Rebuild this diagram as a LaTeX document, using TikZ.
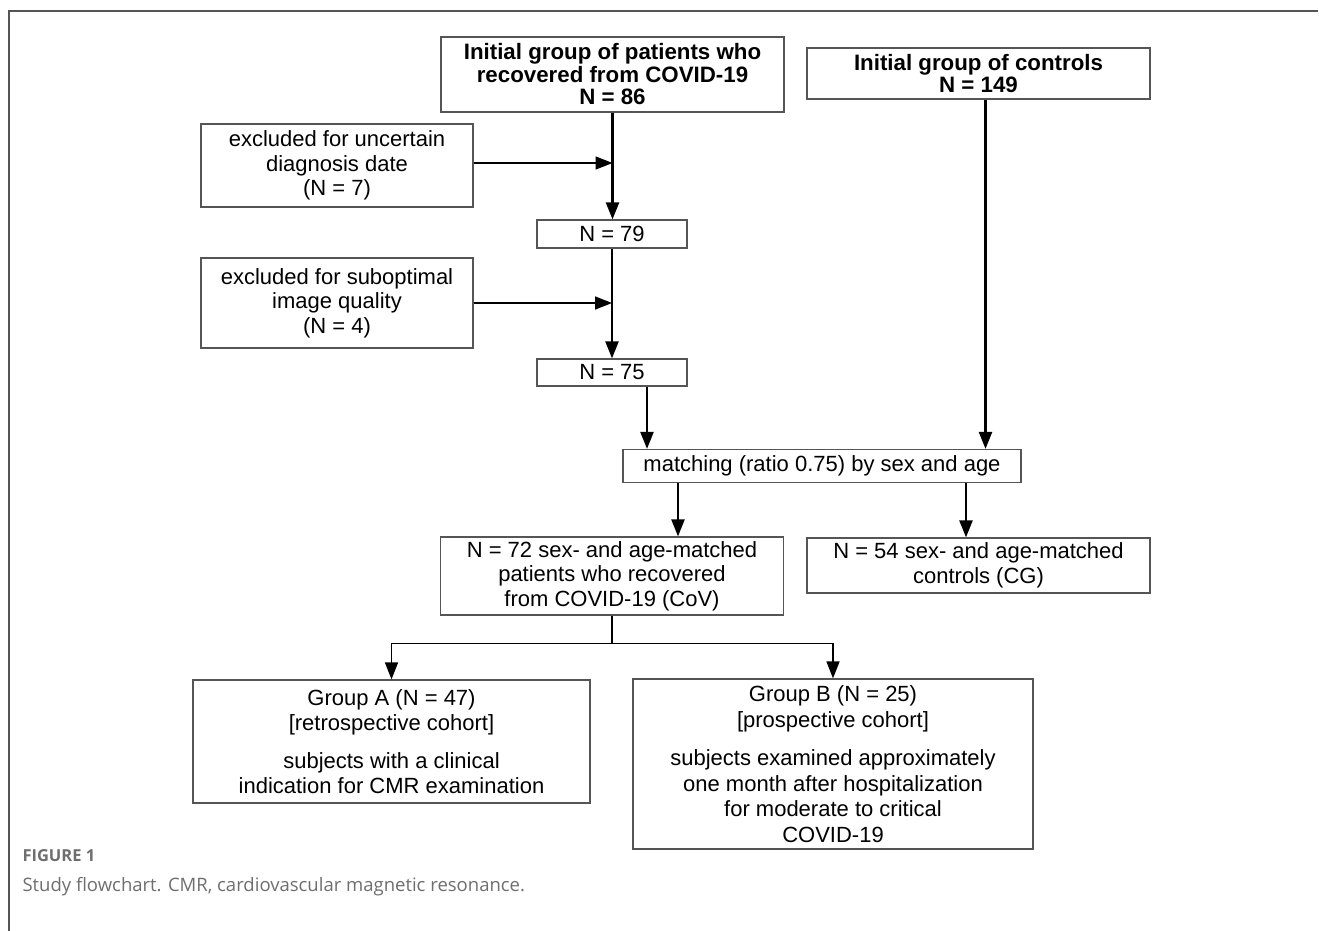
\documentclass[tikz,border=0pt]{standalone}
\usepackage{fontspec}
\setmainfont{Liberation Sans}
\newfontfamily\capfont{Open Sans}
\usepackage{tikz}
\usetikzlibrary{arrows.meta}

\definecolor{boxgray}{HTML}{555555}
\definecolor{capgray}{HTML}{6E6E6E}

\begin{document}
\begin{tikzpicture}[x=1pt,y=-1pt,>={Triangle[length=17pt,width=13pt]}]
            \useasboundingbox (0,0) rectangle (1319,931);
            % frame and caption
            \draw[boxgray,line width=1.3pt] (9,931) -- (9,11) -- (1318,11);
            \node[anchor=base west,text=capgray,font=\capfont\bfseries\fontsize{16.5}{18}\selectfont] (fig) at (19,861) {FIGURE 1};
            \node[anchor=base west,text=capgray,font=\capfont\fontsize{18.5}{22}\selectfont] (cap) at (19,891) {Study flowchart. CMR, cardiovascular magnetic resonance.};

            \begin{scope}[every node/.style={rectangle,draw=boxgray,line width=1.2pt,align=center,inner sep=0pt,font=\fontsize{22}{24.5}\selectfont}]
                \node[minimum width=343pt,minimum height=75pt,font=\bfseries\fontsize{22.3}{22.5}\selectfont] (p0) at (612.5,74.5) {Initial group of patients who\\recovered from COVID-19\\N = 86};
                \node[minimum width=343pt,minimum height=51pt,font=\bfseries\fontsize{22.3}{22.5}\selectfont] (c0) at (978.5,73.5) {Initial group of controls\\N = 149};
                \node[minimum width=272pt,minimum height=83pt] (ex1) at (337,165.5) {excluded for uncertain\\diagnosis date\\(N = 7)};
                \node[minimum width=150pt,minimum height=28pt] (n79) at (612,234) {N = 79};
                \node[minimum width=272pt,minimum height=90pt] (ex2) at (337,303) {excluded for suboptimal\\image quality\\(N = 4)};
                \node[minimum width=150pt,minimum height=27pt] (n75) at (612,372.5) {N = 75};
                \node[minimum width=398pt,minimum height=33pt] (match) at (822,466) {matching (ratio 0.75) by sex and age};
                \node[minimum width=343pt,minimum height=78pt] (n72) at (612,576) {N = 72 sex- and age-matched\\patients who recovered\\from COVID-19 (CoV)};
                \node[minimum width=343pt,minimum height=55pt] (n54) at (978.5,565.5) {N = 54 sex- and age-matched\\controls (CG)};
                \node[minimum width=397pt,minimum height=123pt,font=\fontsize{22}{25}\selectfont] (ga) at (391.5,741.5) {Group A (N = 47)\\{[retrospective cohort]}\\[13pt]subjects with a clinical\\indication for CMR examination};
                \node[minimum width=400pt,minimum height=170pt,font=\fontsize{22}{25.5}\selectfont] (gb) at (833,764) {Group B (N = 25)\\{[prospective cohort]}\\[13pt]subjects examined approximately\\one month after hospitalization\\for moderate to critical\\COVID-19};
            \end{scope}

            \begin{scope}[line width=2.3pt]
                \path [->] (p0.south) edge (p0.south |- n79.north);
                \path [->] (n79.south) edge (n79.south |- n75.north);
                \path [->] ([xshift=35pt]n75.south) edge ([xshift=35pt]n75.south |- match.north);
                \path [->] ([xshift=7pt]c0.south) edge ([xshift=7pt]c0.south |- match.north);
                \path [->] ([xshift=-144pt]match.south) edge ([xshift=-144pt]match.south |- n72.north);
                \path [->] ([xshift=144pt]match.south) edge ([xshift=144pt]match.south |- n54.north);
            \end{scope}

            \begin{scope}[line width=1.6pt]
                \path [->] ([yshift=2.5pt]ex1.east) edge ([yshift=2.5pt]ex1.east -| p0.south);
                \path [->] (ex2.east) edge (ex2.east -| n79.south);
                \draw (n72.south) -- ++(0,28) coordinate (split);
                \draw [->] (split) -| (ga.north);
                \draw [->] (split) -| (gb.north);
            \end{scope}
            \end{tikzpicture}
\end{document}
